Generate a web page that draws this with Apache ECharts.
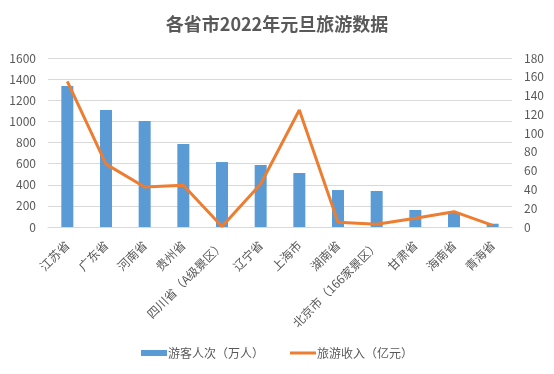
<!DOCTYPE html>
<html><head><meta charset="utf-8">
<script src="https://cdn.jsdelivr.net/npm/echarts@6/dist/echarts.min.js"></script>
<style>html,body{margin:0;padding:0;background:#fff}#c{width:554px;height:374px}</style>
</head><body><div id="c"></div>
<script>
const categories = ['江苏省','广东省','河南省','贵州省','四川省（A级景区）','辽宁省','上海市','湖南省','北京市（166家景区）','甘肃省','海南省','青海省'];
const visitors = [1335, 1108, 1003, 786, 615, 587, 511, 350, 341, 161, 138, 31];
const revenue = [155, 67, 42.6, 44.4, 0.5, 45.8, 124.6, 5, 3, 9.3, 16.3, 1.8];
const leftTicks = {min: 0, max: 1600, interval: 200};
const rightTicks = {min: 0, max: 180, interval: 20};
const font = "'Microsoft YaHei','Noto Sans CJK SC',sans-serif";
const chart = echarts.init(document.getElementById('c'));
chart.setOption({
  animation: false,
  title: {text: '各省市2022年元旦旅游数据', left: 'center', top: 10,
    textStyle: {fontSize: 18, fontWeight: 'bold', color: '#595959', fontFamily: font}},
  grid: {left: 48, right: 42, top: 58, bottom: 147},
  legend: {bottom: 10, left: 'center', itemGap: 26, itemWidth: 26, itemHeight: 6,
    textStyle: {fontSize: 12, color: '#595959', fontFamily: font, padding: [0, 0, 0, -4]},
    data: [{name: '游客人次（万人）', icon: 'rect'},
           {name: '旅游收入（亿元）', icon: 'path://M0,0 L26,0 L26,3 L0,3 Z'}]},
  xAxis: {type: 'category', data: categories,
    axisLine: {lineStyle: {color: '#d9d9d9'}}, axisTick: {show: false},
    axisLabel: {rotate: 45, interval: 0, fontSize: 12, color: '#595959', fontFamily: font, margin: 16}},
  yAxis: [
    {type: 'value', ...leftTicks, axisLine: {show: false}, axisTick: {show: false},
      axisLabel: {fontSize: 12, color: '#595959', fontFamily: font, margin: 12, formatter: v => String(v)},
      splitLine: {lineStyle: {color: '#d9d9d9'}}},
    {type: 'value', ...rightTicks, axisLine: {show: false}, axisTick: {show: false},
      axisLabel: {fontSize: 12, color: '#595959', fontFamily: font, margin: 12, formatter: v => String(v)},
      splitLine: {show: false}}
  ],
  series: [
    {name: '游客人次（万人）', type: 'bar', data: visitors, barWidth: 12,
      itemStyle: {color: '#5B9BD5'}},
    {name: '旅游收入（亿元）', type: 'line', yAxisIndex: 1, data: revenue,
      symbol: 'none', lineStyle: {color: '#ED7D31', width: 3}, itemStyle: {color: '#ED7D31'}}
  ]
});
</script></body></html>
